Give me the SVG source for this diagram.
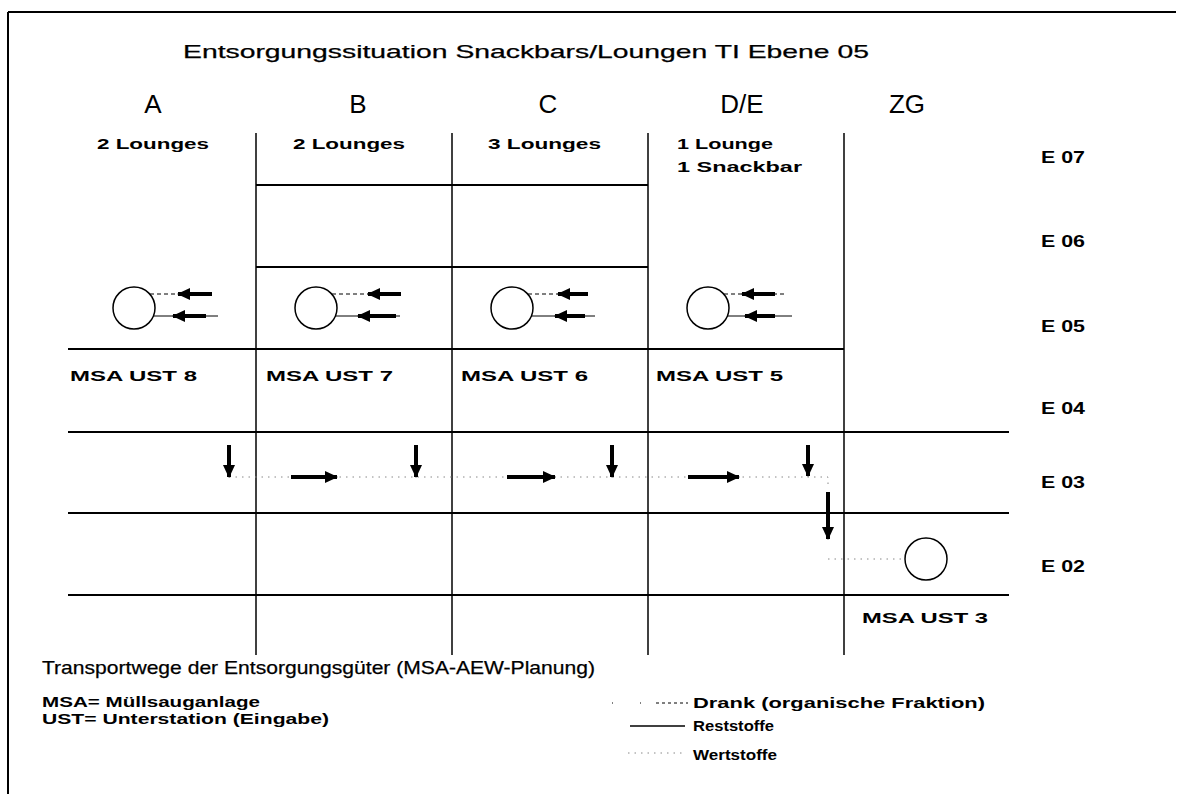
<svg xmlns="http://www.w3.org/2000/svg" width="1179" height="794" viewBox="0 0 1179 794">
<style>
text{font-family:"Liberation Sans",Arial,sans-serif;fill:#000}
.t{font-size:19px;stroke:#000;stroke-width:0.25}
.col{font-size:26px;text-anchor:middle}
.lb{font-size:15px;font-weight:bold}
.ev{font-size:16px;font-weight:bold}
.grid{stroke:#000;fill:none}
.h{stroke-width:2}
.v{stroke-width:1.5}
.circ{fill:#fff;stroke:#000;stroke-width:1.5}
.arr{stroke:#000;stroke-width:4;fill:none}
.thin{stroke:#000;stroke-width:1;fill:none}
.dash{stroke:#000;stroke-width:1;stroke-dasharray:4,3;fill:none}
.dot{stroke:#888;stroke-width:1;stroke-dasharray:1.5,5;fill:none}
</style>
<defs>
<marker id="ah" markerUnits="userSpaceOnUse" markerWidth="14" markerHeight="14" viewBox="0 0 14 14" refX="12" refY="7" orient="auto">
<path d="M0,1 L13,7 L0,13 Z" fill="#000"/>
</marker>
</defs>
<rect width="1179" height="794" fill="#fff"/>
<g id="frame" class="grid">
<line x1="8" y1="12" x2="1176" y2="12" class="h"/>
<line x1="8" y1="12" x2="8" y2="794" class="h"/>
</g>
<g id="title">
<text class="t" x="183" y="58" textLength="686" lengthAdjust="spacingAndGlyphs">Entsorgungssituation Snackbars/Loungen TI Ebene 05</text>
</g>
<g id="grid" class="grid">
<line x1="256" y1="133" x2="256" y2="655" class="v"/>
<line x1="452" y1="133" x2="452" y2="655" class="v"/>
<line x1="648" y1="133" x2="648" y2="655" class="v"/>
<line x1="844" y1="133" x2="844" y2="655" class="v"/>
<line x1="256" y1="185" x2="648" y2="185" class="h"/>
<line x1="256" y1="267" x2="648" y2="267" class="h"/>
<line x1="68" y1="349" x2="844" y2="349" class="h"/>
<line x1="68" y1="432" x2="1009" y2="432" class="h"/>
<line x1="68" y1="513" x2="1009" y2="513" class="h"/>
<line x1="68" y1="595" x2="1009" y2="595" class="h"/>
</g>
<g id="colA">
<text class="col" x="153" y="113">A</text>
<text class="lb" x="97" y="149" textLength="112" lengthAdjust="spacingAndGlyphs">2 Lounges</text>
<circle class="circ" cx="134" cy="308" r="21"/>
<text class="lb" x="70" y="381" textLength="127" lengthAdjust="spacingAndGlyphs">MSA UST 8</text>
</g>
<g id="colB">
<text class="col" x="358" y="113">B</text>
<text class="lb" x="293" y="149" textLength="112" lengthAdjust="spacingAndGlyphs">2 Lounges</text>
<circle class="circ" cx="316" cy="308" r="21"/>
<text class="lb" x="266" y="381" textLength="127" lengthAdjust="spacingAndGlyphs">MSA UST 7</text>
</g>
<g id="colC">
<text class="col" x="548" y="113">C</text>
<text class="lb" x="488" y="149" textLength="113" lengthAdjust="spacingAndGlyphs">3 Lounges</text>
<circle class="circ" cx="512" cy="308" r="21"/>
<text class="lb" x="461" y="381" textLength="127" lengthAdjust="spacingAndGlyphs">MSA UST 6</text>
</g>
<g id="colDE">
<text class="col" x="742" y="113">D/E</text>
<text class="lb" x="677" y="149" textLength="96" lengthAdjust="spacingAndGlyphs">1 Lounge</text>
<text class="lb" x="677" y="172" textLength="125" lengthAdjust="spacingAndGlyphs">1 Snackbar</text>
<circle class="circ" cx="708" cy="308" r="21"/>
<text class="lb" x="656" y="381" textLength="127" lengthAdjust="spacingAndGlyphs">MSA UST 5</text>
</g>
<g id="colZG">
<text class="col" x="907" y="113">ZG</text>
<circle class="circ" cx="926" cy="559" r="21"/>
<text class="lb" x="862" y="623" textLength="126" lengthAdjust="spacingAndGlyphs">MSA UST 3</text>
</g>
<g id="levels">
<text class="ev" x="1041" y="163" textLength="44" lengthAdjust="spacingAndGlyphs">E 07</text>
<text class="ev" x="1041" y="247" textLength="44" lengthAdjust="spacingAndGlyphs">E 06</text>
<text class="ev" x="1041" y="332" textLength="44" lengthAdjust="spacingAndGlyphs">E 05</text>
<text class="ev" x="1041" y="414" textLength="44" lengthAdjust="spacingAndGlyphs">E 04</text>
<text class="ev" x="1041" y="488" textLength="44" lengthAdjust="spacingAndGlyphs">E 03</text>
<text class="ev" x="1041" y="572" textLength="44" lengthAdjust="spacingAndGlyphs">E 02</text>
</g>
<g id="connectors">
<line class="dash" x1="150" y1="294" x2="180" y2="294"/>
<line class="arr" x1="212" y1="294" x2="178" y2="294" marker-end="url(#ah)"/>
<line class="thin" x1="153" y1="316" x2="218" y2="316"/>
<line class="arr" x1="206" y1="316" x2="173" y2="316" marker-end="url(#ah)"/>
<line class="dash" x1="332" y1="294" x2="370" y2="294"/>
<line class="arr" x1="401" y1="294" x2="368" y2="294" marker-end="url(#ah)"/>
<line class="thin" x1="335" y1="316" x2="400" y2="316"/>
<line class="arr" x1="396" y1="316" x2="358" y2="316" marker-end="url(#ah)"/>
<line class="dash" x1="528" y1="294" x2="560" y2="294"/>
<line class="arr" x1="588" y1="294" x2="558" y2="294" marker-end="url(#ah)"/>
<line class="thin" x1="531" y1="316" x2="595" y2="316"/>
<line class="arr" x1="585" y1="316" x2="555" y2="316" marker-end="url(#ah)"/>
<line class="dash" x1="724" y1="294" x2="784" y2="294"/>
<line class="arr" x1="775" y1="294" x2="742" y2="294" marker-end="url(#ah)"/>
<line class="thin" x1="727" y1="316" x2="792" y2="316"/>
<line class="arr" x1="775" y1="316" x2="745" y2="316" marker-end="url(#ah)"/>
<path class="dot" d="M229,477 H828 V486 M828,559 H905"/>
<line class="arr" x1="229" y1="445" x2="229" y2="477" marker-end="url(#ah)"/>
<line class="arr" x1="416" y1="445" x2="416" y2="477" marker-end="url(#ah)"/>
<line class="arr" x1="612" y1="445" x2="612" y2="477" marker-end="url(#ah)"/>
<line class="arr" x1="808" y1="445" x2="808" y2="476" marker-end="url(#ah)"/>
<line class="arr" x1="291" y1="477" x2="337" y2="477" marker-end="url(#ah)"/>
<line class="arr" x1="507" y1="477" x2="555" y2="477" marker-end="url(#ah)"/>
<line class="arr" x1="688" y1="477" x2="739" y2="477" marker-end="url(#ah)"/>
<line class="arr" x1="828" y1="492" x2="828" y2="539" marker-end="url(#ah)"/>
</g>
<g id="legend">
<text class="t" x="42" y="674" textLength="553" lengthAdjust="spacingAndGlyphs">Transportwege der Entsorgungsgüter (MSA-AEW-Planung)</text>
<text class="lb" x="42" y="707" textLength="218" lengthAdjust="spacingAndGlyphs">MSA= Müllsauganlage</text>
<text class="lb" x="42" y="724" textLength="287" lengthAdjust="spacingAndGlyphs">UST= Unterstation (Eingabe)</text>
<path class="dash" d="M612,703 h1 M640,703 h1 M656,703 H688" style="stroke-dasharray:3,3"/>
<line class="thin" x1="630" y1="726" x2="685" y2="726" style="stroke-width:1.5"/>
<line class="dot" x1="628" y1="753" x2="685" y2="753"/>
<text class="lb" x="693" y="708" textLength="292" lengthAdjust="spacingAndGlyphs">Drank (organische Fraktion)</text>
<text class="lb" x="693" y="731" textLength="81" lengthAdjust="spacingAndGlyphs">Reststoffe</text>
<text class="lb" x="693" y="760" textLength="84" lengthAdjust="spacingAndGlyphs">Wertstoffe</text>
</g>
</svg>
